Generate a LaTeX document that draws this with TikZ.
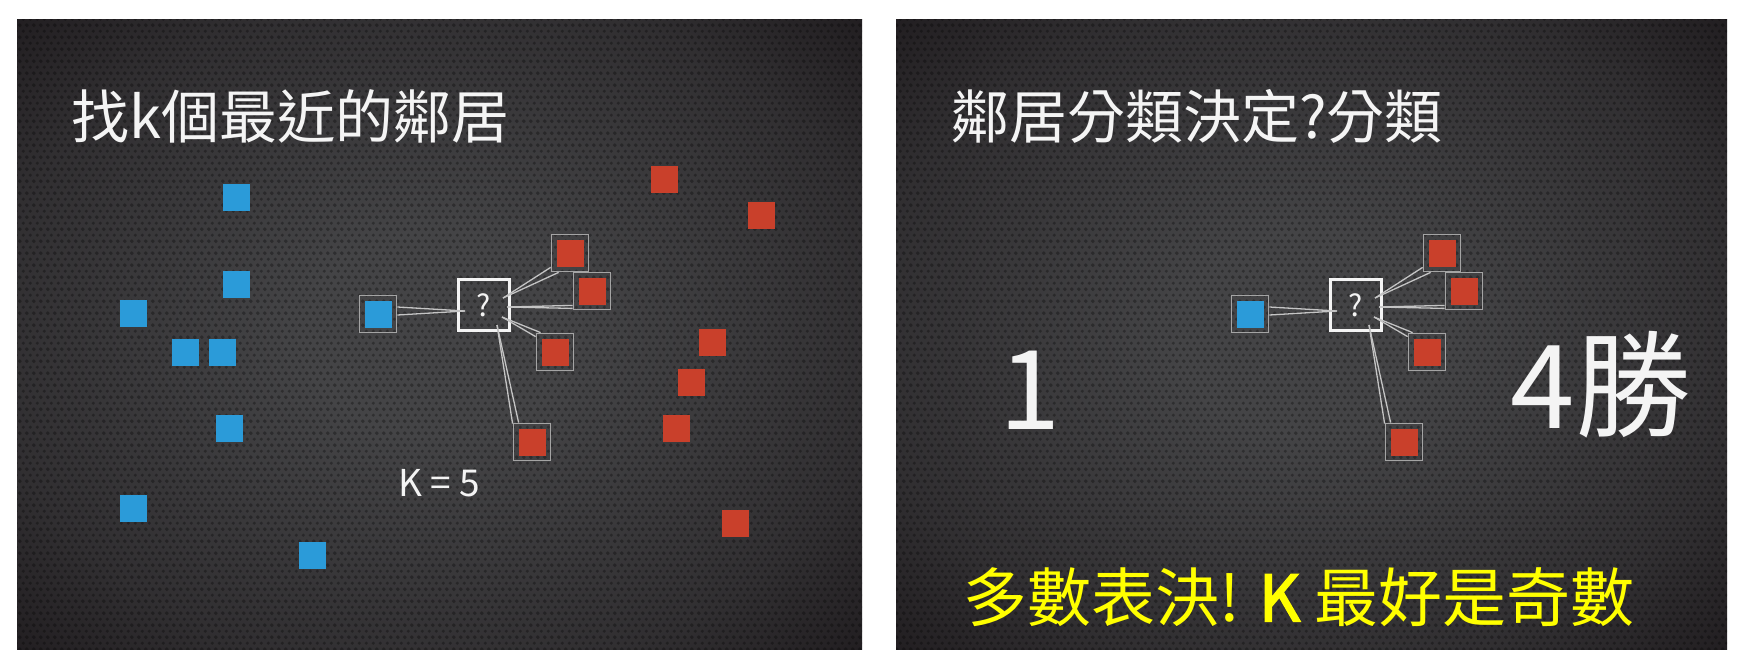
\documentclass[tikz,border=0pt]{standalone}
\usepackage{fontspec}
\usetikzlibrary{patterns.meta,positioning}
\setmainfont{Noto Sans CJK TC}
\newfontfamily\cjkbold{Noto Sans CJK TC}[FakeBold=2.5]
\definecolor{bgmid}{HTML}{444446}
\definecolor{bgedge}{HTML}{110C0F}
\definecolor{bluesq}{HTML}{2B9BD9}
\definecolor{redsq}{HTML}{C9402B}
\definecolor{framegray}{HTML}{A4A4A4}
\definecolor{linkgray}{HTML}{C4C4C4}
\definecolor{textwhite}{HTML}{F4F4F4}
\definecolor{voteyellow}{HTML}{FFFF00}
\pgfdeclareradialshading{vignette}{\pgfpoint{0bp}{0bp}}{%
  color(0bp)=(bgmid); color(8bp)=(bgmid); color(27bp)=(bgmid!62!bgedge); color(45bp)=(bgedge); color(75bp)=(bgedge)}
\tikzdeclarepattern{
  name=perfdots, type=uncolored,
  bounding box={(0pt,0pt) and (6.8pt,11.8pt)},
  tile size={(6.8pt,11.8pt)},
  code={
    \fill (0pt,0pt) circle (1.7pt); \fill (6.8pt,0pt) circle (1.7pt);
    \fill (0pt,11.8pt) circle (1.7pt); \fill (6.8pt,11.8pt) circle (1.7pt);
    \fill (3.4pt,5.9pt) circle (1.7pt);
  }
}
\tikzset{
  bluesq/.style={rectangle,fill=bluesq,minimum size=27pt,inner sep=0pt},
  redsq/.style={rectangle,fill=redsq,minimum size=27pt,inner sep=0pt},
  nbrframe/.style={rectangle,draw=framegray,line width=1.8pt,minimum size=37pt,inner sep=0pt},
  query/.style={rectangle,draw=textwhite,line width=2.8pt,minimum size=51pt,inner sep=0pt,
    text=textwhite,font=\fontsize{30}{32}\selectfont},
  link/.style={draw=linkgray,line width=1.3pt},
  titletext/.style={anchor=west,inner sep=0pt,text=textwhite,font=\fontsize{58}{60}\selectfont},
  bigtext/.style={inner sep=0pt,text=textwhite,font=\fontsize{110}{112}\selectfont},
  votetext/.style={anchor=west,inner sep=0pt,text=voteyellow,font=\fontsize{64}{66}\selectfont}
}

\begin{document}
\begin{tikzpicture}[x=1pt,y=-1pt]
  \useasboundingbox (0,0) rectangle (1741,672);
  \fill[white] (0,0) rectangle (1741,672);

  % two slides
  \foreach \pl/\pr in {17/862,896/1727}{
    \shade[shading=vignette] (\pl,19) rectangle (\pr,649);
    \fill[pattern=perfdots,pattern color=black,fill opacity=0.3] (\pl,19) rectangle (\pr,649);
  }

  \node[titletext] (title1) at (71,116) {找k個最近的鄰居};
  \node[titletext] (title2) at (951,116) {鄰居分類決定?分類};

  \node[bluesq] (p1)  at (236,197) {};
  \node[bluesq] (p2)  at (236,284) {};
  \node[bluesq] (p3)  at (133,313) {};
  \node[bluesq] (p4)  at (185,352) {};
  \node[bluesq] (p5)  at (222,352) {};
  \node[bluesq] (p6)  at (229,428) {};
  \node[bluesq] (p7)  at (133,508) {};
  \node[bluesq] (p8)  at (312,555) {};

  \node[redsq]  (n1)  at (664,179) {};
  \node[redsq]  (n2)  at (761,215) {};
  \node[redsq]  (n3)  at (712,342) {};
  \node[redsq]  (n4)  at (691,382) {};
  \node[redsq]  (n5)  at (676,428) {};
  \node[redsq]  (n6)  at (735,523) {};

  % query point with its five neighbours, once per slide
  \foreach \dx/\pp in {0/L,872/R}{
    \begin{scope}[xshift=\dx,name prefix=\pp-]
      \node[query]    (q)   at (484,305) {?};
      \node[nbrframe] (b)   at (378,314) {};
      \node[nbrframe] (r1)  at (570,253) {};
      \node[nbrframe] (r2)  at (592,291) {};
      \node[nbrframe] (r3)  at (555,352) {};
      \node[nbrframe] (r4)  at (532,442) {};
      \node[bluesq]   (bin) at (b)  {};
      \node[redsq]    (r1in) at (r1) {};
      \node[redsq]    (r2in) at (r2) {};
      \node[redsq]    (r3in) at (r3) {};
      \node[redsq]    (r4in) at (r4) {};

      \draw[link] ([shift={(-19,6)}]q.center) -- ([shift={(0,-7)}]b.east);
      \draw[link] ([shift={(-19,6)}]q.center) -- ([shift={(0,1)}]b.east);
      \draw[link] ([shift={(19,-7)}]q.center) -- ([shift={(0,-5)}]r1.south west);
      \draw[link] ([shift={(19,-7)}]q.center) -- ([shift={(8,0)}]r1.south west);
      \draw[link] ([shift={(23,2)}]q.center)  -- ([shift={(0,-5)}]r2.south west);
      \draw[link] ([shift={(23,2)}]q.center)  -- ([shift={(0,-2)}]r2.south west);
      \draw[link] ([shift={(18,12)}]q.center) -- ([shift={(0,4)}]r3.north west);
      \draw[link] ([shift={(18,12)}]q.center) -- ([shift={(5,0)}]r3.north west);
      \draw[link] ([shift={(13,20)}]q.center) -- ([shift={(0,1)}]r4.north west);
      \draw[link] ([shift={(13,20)}]q.center) -- ([shift={(6,0)}]r4.north west);
    \end{scope}
  }

  \node[inner sep=0pt,text=textwhite,font=\fontsize{37}{39}\selectfont] (kval) at (439,483) {K = 5};

  \node[bigtext] (bluecount) at (1030,390) {1};
  \node[bigtext,font=\fontsize{116}{118}\selectfont] (redcount) at (1601,385) {4勝};
  \node[votetext] (vote) at (963,597) {多數表決! {\cjkbold K} 最好是奇數};
\end{tikzpicture}
\end{document}
